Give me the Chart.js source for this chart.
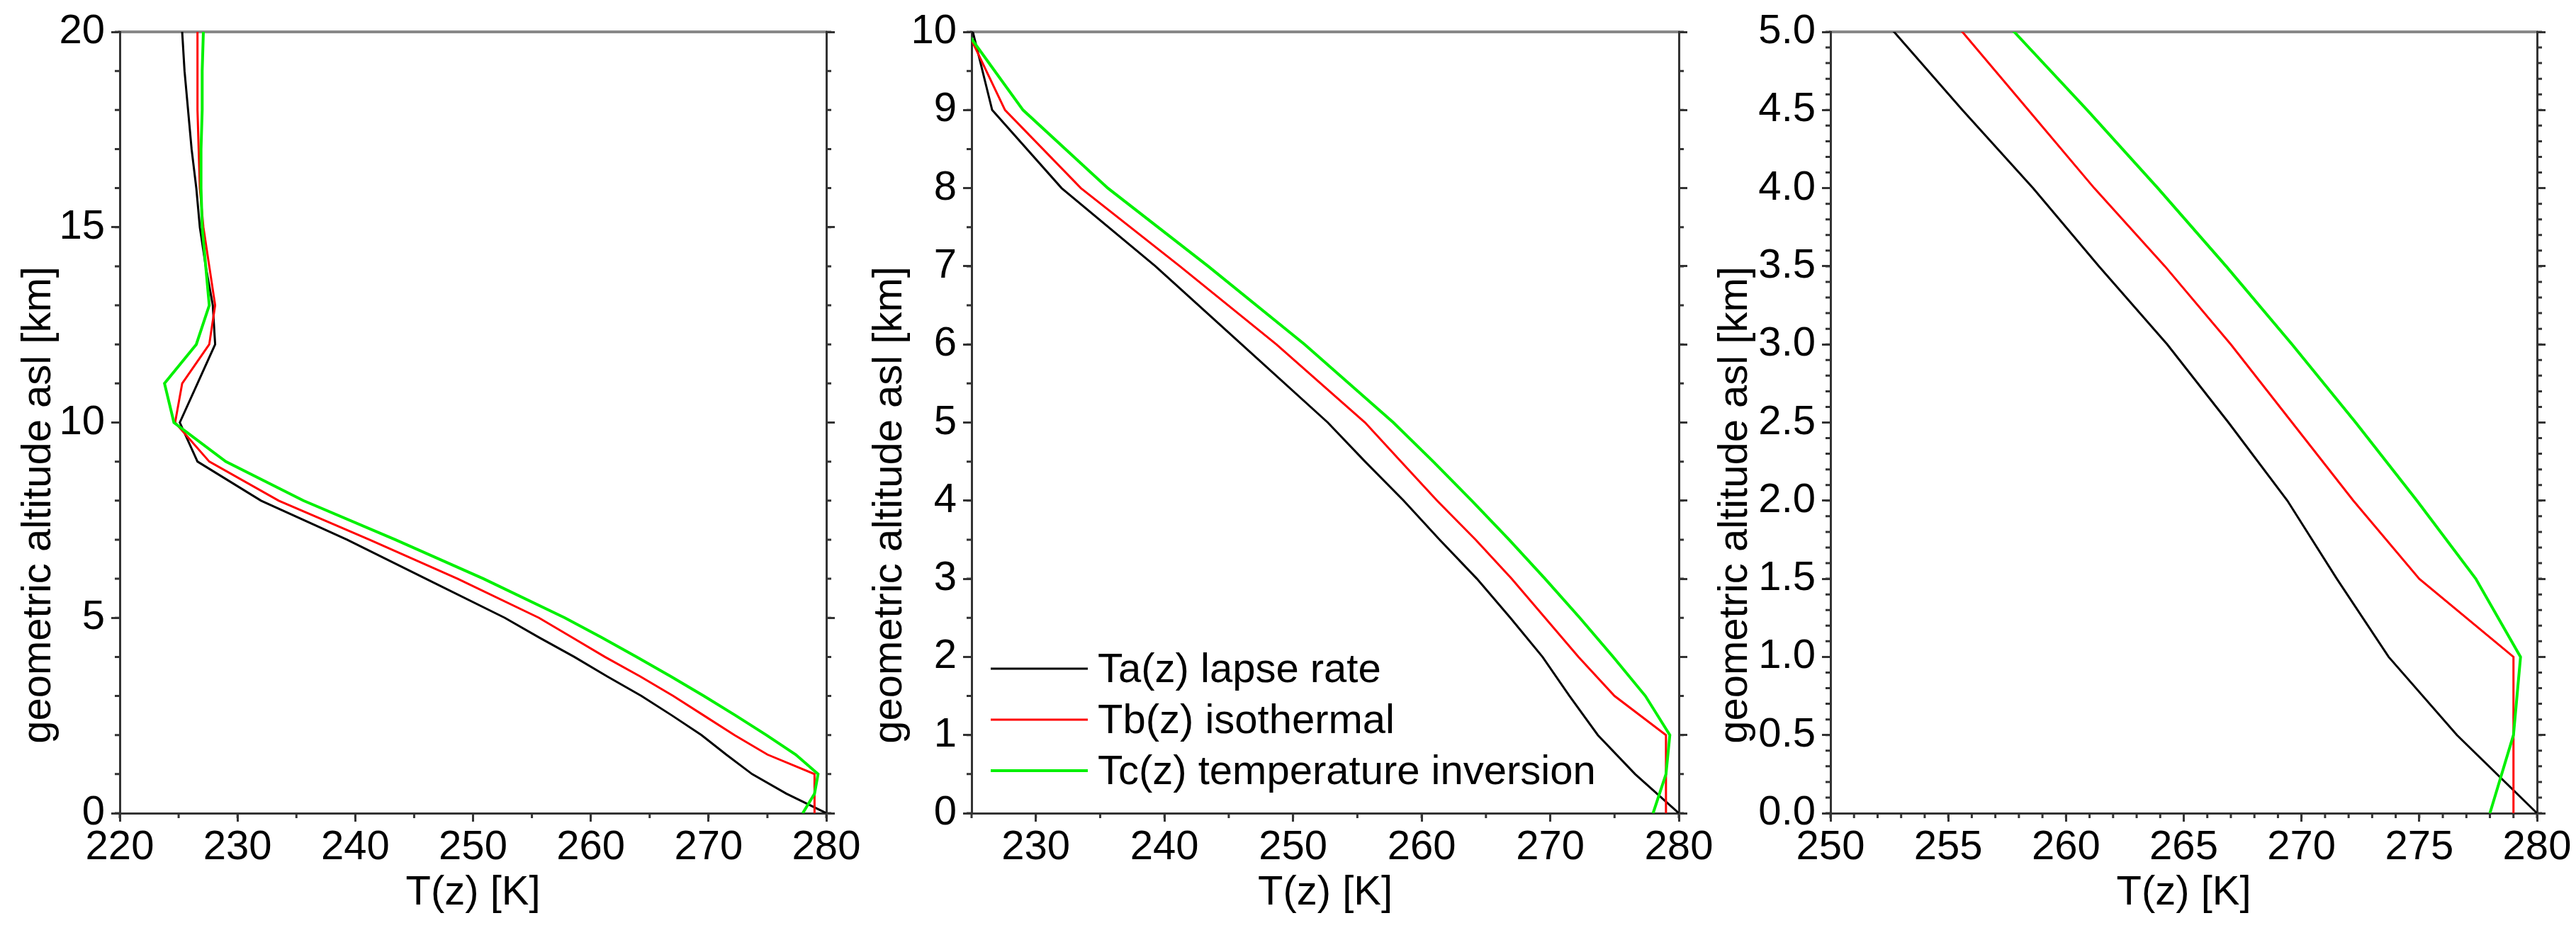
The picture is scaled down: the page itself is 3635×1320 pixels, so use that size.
<!DOCTYPE html>
<html>
<head>
<meta charset="utf-8">
<script src="https://cdn.jsdelivr.net/npm/chart.js@4.4.1/dist/chart.umd.min.js"></script>
<style>
    html, body { margin: 0; padding: 0; background: #fff; }
    body { width: 3635px; height: 1320px; position: relative; overflow: hidden; }
    canvas { position: absolute; top: 0; }
</style>
</head>
<body>
<canvas id="panel1" width="1240" height="1320" style="left:0px"></canvas>
<canvas id="panel2" width="1240" height="1320" style="left:1200px"></canvas>
<canvas id="panel3" width="1225" height="1320" style="left:2410px"></canvas>
<script>
// altitude levels [km]
const altitude = [0, 0.5, 1, 1.5, 2, 2.5, 3, 3.5, 4, 4.5, 5, 6, 7, 8, 9, 10, 11, 12, 13, 14, 15, 16, 17, 18, 19, 20];

// temperature profiles [K]
const tempLapse = [280.0, 276.6, 273.7, 271.5, 269.4, 266.9, 264.3, 261.4, 258.6, 255.6, 252.7, 246.0, 239.3, 232.0, 226.6, 225.1, 226.6, 228.1, 227.9, 227.3, 226.8, 226.5, 226.1, 225.8, 225.5, 225.3];
const tempIsothermal = [279.0, 279.0, 279.0, 275.0, 272.2, 269.6, 267.0, 264.2, 261.2, 258.4, 255.6, 248.7, 241.2, 233.5, 227.6, 224.7, 225.3, 227.6, 228.1, 227.6, 227.1, 226.8, 226.7, 226.6, 226.6, 226.6];
const tempInversion = [278.0, 279.0, 279.3, 277.4, 274.9, 272.3, 269.6, 266.8, 263.9, 260.9, 257.8, 250.9, 243.4, 235.6, 229.0, 224.6, 223.8, 226.5, 227.6, 227.3, 227.0, 226.9, 226.9, 227.0, 227.0, 227.1];

const seriesLabels = ['Ta(z) lapse rate', 'Tb(z) isothermal', 'Tc(z) temperature inversion'];

// tick labels for each panel
const p1XTicks = [220, 230, 240, 250, 260, 270, 280];
const p1YTicks = [0, 5, 10, 15, 20];
const p2XTicks = [230, 240, 250, 260, 270, 280];
const p2YTicks = [0, 1, 2, 3, 4, 5, 6, 7, 8, 9, 10];
const p3XTicks = [250, 255, 260, 265, 270, 275, 280];
const p3YTicks = [0, 0.5, 1, 1.5, 2, 2.5, 3, 3.5, 4, 4.5, 5];

const FONT = "'Liberation Sans', Arial, sans-serif";
Chart.defaults.font.family = FONT;
Chart.defaults.font.size = 58;
Chart.defaults.color = '#000';

const H = 1320;
const AREA_TOP = 45;
const AREA_BOTTOM = 1148;
const AXIS_COLOR = '#333';

function profile(temps) {
    return altitude.map((z, i) => ({ x: temps[i], y: z }));
}

// small ticks between the labelled ones, on bottom, left and right axes
const minorTicks = {
    id: 'minorTicks',
    afterDraw(chart, args, o) {
        const { ctx, chartArea: a, scales } = chart;
        const len = 7;
        ctx.save();
        ctx.strokeStyle = AXIS_COLOR;
        ctx.lineWidth = 3;
        ctx.beginPath();
        const nx = Math.round((scales.x.max - scales.x.min) / o.x);
        for (let i = 0; i <= nx; i++) {
            const px = scales.x.getPixelForValue(scales.x.min + i * o.x);
            ctx.moveTo(px, a.bottom);
            ctx.lineTo(px, a.bottom + len);
        }
        const ny = Math.round((scales.y.max - scales.y.min) / o.y);
        for (let i = 0; i <= ny; i++) {
            const py = scales.y.getPixelForValue(scales.y.min + i * o.y);
            ctx.moveTo(a.left - len, py);
            ctx.lineTo(a.left, py);
            ctx.moveTo(a.right, py);
            ctx.lineTo(a.right + len, py);
        }
        ctx.stroke();
        ctx.restore();
    }
};

// rotated y title, placed a bit below the middle like the original
const sideTitle = {
    id: 'sideTitle',
    afterDraw(chart, args, o) {
        const ctx = chart.ctx;
        ctx.save();
        ctx.translate(o.x, o.y);
        ctx.rotate(-Math.PI / 2);
        ctx.font = '58px ' + FONT;
        ctx.fillStyle = '#000';
        ctx.textAlign = 'center';
        ctx.textBaseline = 'middle';
        ctx.fillText(o.text, 0, 0);
        ctx.restore();
    }
};

// legend drawn inside the plot area (middle panel only)
const insetLegend = {
    id: 'insetLegend',
    afterDraw(chart, args, o) {
        if (!o.show) return;
        const ctx = chart.ctx;
        ctx.save();
        ctx.font = '58px ' + FONT;
        ctx.fillStyle = '#000';
        ctx.textAlign = 'left';
        ctx.textBaseline = 'middle';
        chart.data.datasets.forEach((ds, i) => {
            const y = o.top + i * o.rowGap;
            ctx.strokeStyle = ds.borderColor;
            ctx.lineWidth = ds.borderWidth;
            ctx.beginPath();
            ctx.moveTo(o.left, y);
            ctx.lineTo(o.left + o.lineLen, y);
            ctx.stroke();
            ctx.fillText(ds.label, o.left + o.lineLen + 14, y + 3);
        });
        ctx.restore();
    }
};

function makePanel(id, cfg) {
    const ctx = document.getElementById(id).getContext('2d');
    const tickGrid = { display: true, drawOnChartArea: false, drawTicks: true, tickLength: 12, tickWidth: 3, tickColor: AXIS_COLOR };
    const border = { display: true, width: 3, color: AXIS_COLOR };
    return new Chart(ctx, {
        type: 'scatter',
        data: {
            datasets: [
                { label: seriesLabels[0], data: profile(tempLapse), borderColor: '#000000', borderWidth: 3, order: 2 },
                { label: seriesLabels[1], data: profile(tempIsothermal), borderColor: '#ff0000', borderWidth: 3, order: 1 },
                { label: seriesLabels[2], data: profile(tempInversion), borderColor: '#00f000', borderWidth: 4, order: 0 }
            ].map(ds => Object.assign(ds, { showLine: true, pointRadius: 0, pointHoverRadius: 0, tension: 0, fill: false }))
        },
        options: {
            responsive: false,
            animation: false,
            events: [],
            layout: { padding: 0 },
            plugins: {
                legend: { display: false },
                tooltip: { enabled: false },
                minorTicks: { x: cfg.xMinor, y: cfg.yMinor },
                sideTitle: { text: 'geometric altitude asl [km]', x: cfg.titleX - cfg.canvasLeft, y: 713 },
                insetLegend: cfg.legend ? { show: true, left: 1398 - cfg.canvasLeft, lineLen: 137, top: 944, rowGap: 72 } : { show: false }
            },
            scales: {
                x: {
                    type: 'linear', position: 'bottom', min: cfg.xMin, max: cfg.xMax,
                    afterBuildTicks: s => { s.ticks = cfg.xTicks.map(v => ({ value: v })); },
                    afterFit: s => { s.height = H - AREA_BOTTOM; },
                    grid: tickGrid, border: border,
                    ticks: { padding: 2, maxRotation: 0, autoSkip: false, color: '#000' },
                    title: { display: true, text: 'T(z) [K]', padding: { top: 0, bottom: 24 }, color: '#000' }
                },
                x2: {
                    type: 'linear', position: 'top', min: cfg.xMin, max: cfg.xMax,
                    afterFit: s => { s.height = AREA_TOP; },
                    grid: { display: false }, ticks: { display: false },
                    border: { display: true, width: 4, color: '#888' }
                },
                y: {
                    type: 'linear', position: 'left', min: cfg.yMin, max: cfg.yMax,
                    afterBuildTicks: s => { s.ticks = cfg.yTicks.map(v => ({ value: v })); },
                    afterFit: s => { s.width = cfg.areaLeft - cfg.canvasLeft; },
                    grid: tickGrid, border: border,
                    ticks: { padding: 9, autoSkip: false, color: '#000', callback: cfg.yFmt }
                },
                y2: {
                    type: 'linear', position: 'right', min: cfg.yMin, max: cfg.yMax,
                    afterBuildTicks: s => { s.ticks = cfg.yTicks.map(v => ({ value: v })); },
                    afterFit: s => { s.width = cfg.canvasLeft + cfg.canvasWidth - cfg.areaRight; },
                    grid: tickGrid, border: border,
                    ticks: { display: false }
                }
            }
        },
        plugins: [minorTicks, sideTitle, insetLegend]
    });
}

makePanel('panel1', {
    canvasLeft: 0, canvasWidth: 1240, areaLeft: 169, areaRight: 1166, titleX: 55,
    xMin: 220, xMax: 280, yMin: 0, yMax: 20, xTicks: p1XTicks, yTicks: p1YTicks,
    xMinor: 5, yMinor: 1, yFmt: v => String(v), legend: false
});

makePanel('panel2', {
    canvasLeft: 1200, canvasWidth: 1240, areaLeft: 1371, areaRight: 2369, titleX: 1256,
    xMin: 225, xMax: 280, yMin: 0, yMax: 10, xTicks: p2XTicks, yTicks: p2YTicks,
    xMinor: 5, yMinor: 0.5, yFmt: v => String(v), legend: true
});

makePanel('panel3', {
    canvasLeft: 2410, canvasWidth: 1225, areaLeft: 2583, areaRight: 3580, titleX: 2449,
    xMin: 250, xMax: 280, yMin: 0, yMax: 5, xTicks: p3XTicks, yTicks: p3YTicks,
    xMinor: 1, yMinor: 0.1, yFmt: v => v.toFixed(1), legend: false
});
</script>
</body>
</html>
